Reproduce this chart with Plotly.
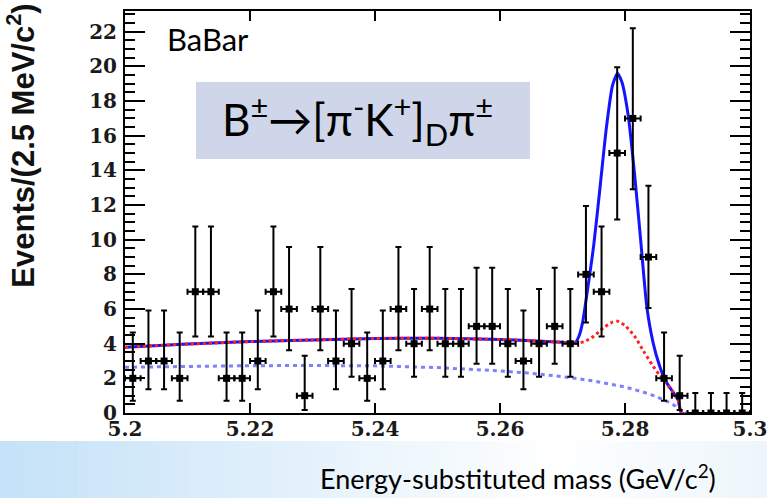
import plotly.graph_objects as go

# ---------------- data ----------------
mass = [5.20125, 5.20375, 5.20625, 5.20875, 5.21125, 5.21375, 5.21625, 5.21875,
        5.22125, 5.22375, 5.22625, 5.22875, 5.23125, 5.23375, 5.23625, 5.23875,
        5.24125, 5.24375, 5.24625, 5.24875, 5.25125, 5.25375, 5.25625, 5.25875,
        5.26125, 5.26375, 5.26625, 5.26875, 5.27125, 5.27375, 5.27625, 5.27875,
        5.28125, 5.28375, 5.28625, 5.28875, 5.29125, 5.29375, 5.29625, 5.29875]
counts = [2, 3, 3, 2, 7, 7, 2, 2, 3, 7, 6, 1, 6, 3, 4, 2, 3, 6, 4, 6,
          4, 4, 5, 5, 4, 3, 4, 5, 4, 8, 7, 15, 17, 9, 2, 1, 0, 0, 0, 0]
err_up = [2.64, 2.92, 2.92, 2.64, 3.77, 3.77, 2.64, 2.64, 2.92, 3.77,
          3.58, 2.30, 3.58, 2.92, 3.16, 2.64, 2.92, 3.58, 3.16, 3.58,
          3.16, 3.16, 3.38, 3.38, 3.16, 2.92, 3.16, 3.38, 3.16, 3.95,
          3.77, 4.95, 5.20, 4.11, 2.64, 2.30, 1.15, 1.15, 1.15, 1.15]
err_dn = [1.29, 1.63, 1.63, 1.29, 2.58, 2.58, 1.29, 1.29, 1.63, 2.58,
          2.38, 0.83, 2.38, 1.63, 1.91, 1.29, 1.63, 2.38, 1.91, 2.38,
          1.91, 1.91, 2.16, 2.16, 1.91, 1.63, 1.91, 2.16, 1.91, 2.77,
          2.58, 3.83, 4.08, 2.94, 1.29, 0.83, 0.0, 0.0, 0.0, 0.0]
half_bin = 0.00125

# combinatorial background (blue dashed)
bkg_x = [5.200, 5.210, 5.220, 5.230, 5.240, 5.250, 5.260, 5.265, 5.270, 5.275,
         5.280, 5.283, 5.285, 5.287, 5.288, 5.2886, 5.2891, 5.300]
bkg_y = [2.64, 2.70, 2.73, 2.74, 2.72, 2.62, 2.43, 2.29, 2.10, 1.85,
         1.50, 1.20, 0.95, 0.62, 0.42, 0.24, 0.0, 0.0]

# total background (red dotted)
red_x = [5.200, 5.210, 5.220, 5.230, 5.240, 5.250, 5.260, 5.265, 5.270, 5.272,
         5.2735, 5.275, 5.2765, 5.278, 5.2788, 5.280, 5.2815, 5.283, 5.2845, 5.286,
         5.2875, 5.2885, 5.2891, 5.300]
red_y = [3.79, 3.98, 4.12, 4.22, 4.30, 4.31, 4.24, 4.17, 4.08, 4.02,
         4.12, 4.43, 4.90, 5.25, 5.30, 5.05, 4.45, 3.55, 2.70, 1.95,
         1.30, 0.75, 0.0, 0.0]

# total fit (blue solid)
fit_x = [5.200, 5.210, 5.220, 5.230, 5.240, 5.250, 5.260, 5.265, 5.270, 5.272,
         5.2726, 5.2732, 5.274, 5.275, 5.276, 5.277, 5.278, 5.2788, 5.2795, 5.2805,
         5.2815, 5.2825, 5.2835, 5.2845, 5.2855, 5.2865, 5.2875, 5.2885, 5.2891, 5.300]
fit_y = [3.79, 3.98, 4.12, 4.22, 4.30, 4.31, 4.24, 4.17, 4.08, 4.05,
         4.40, 5.20, 7.10, 9.70, 13.0, 16.4, 18.9, 19.6, 19.1, 17.2,
         13.9, 10.0, 6.10, 4.05, 2.75, 1.85, 1.30, 0.75, 0.0, 0.0]

x_tickvals = [5.2, 5.22, 5.24, 5.26, 5.28, 5.3]
x_ticktext = ["5.2", "5.22", "5.24", "5.26", "5.28", "5.3"]
y_tickvals = [0, 2, 4, 6, 8, 10, 12, 14, 16, 18, 20, 22]

fig = go.Figure()

fig.add_trace(go.Scatter(x=bkg_x, y=bkg_y, mode="lines",
                         line=dict(color="rgba(105,105,255,0.85)", width=3, dash="4px,4px"),
                         hoverinfo="skip", showlegend=False))
fig.add_trace(go.Scatter(x=fit_x, y=fit_y, mode="lines",
                         line=dict(color="#1414ff", width=3, shape="spline", smoothing=0.6),
                         hoverinfo="skip", showlegend=False))
fig.add_trace(go.Scatter(x=red_x, y=red_y, mode="lines",
                         line=dict(color="#ff2020", width=3, dash="dot", shape="spline", smoothing=0.6),
                         hoverinfo="skip", showlegend=False))
fig.add_trace(go.Scatter(
    x=mass, y=counts, mode="markers",
    marker=dict(symbol="square", size=7, color="black"),
    error_y=dict(type="data", symmetric=False, array=err_up, arrayminus=err_dn,
                 color="black", thickness=2, width=3),
    error_x=dict(type="constant", value=half_bin, color="black", thickness=2, width=3),
    showlegend=False))

# label box
fig.add_shape(type="rect", xref="paper", yref="paper",
              x0=0.1136, x1=0.648, y0=0.632, y1=0.8236,
              fillcolor="#cfd6ea", line=dict(width=0), layer="below")

# bottom gradient band (vertical strips)
n_strips = 64
left_c = (196, 226, 248)
mid_c = (255, 255, 255)
right_c = (238, 246, 252)
x_start, x_end = -0.21, 1.04
for i in range(n_strips):
    f = i / (n_strips - 1)
    if f < 0.72:
        t = f / 0.72
        c = tuple(int(left_c[k] + (mid_c[k] - left_c[k]) * t) for k in range(3))
    else:
        t = (f - 0.72) / 0.28
        c = tuple(int(mid_c[k] + (right_c[k] - mid_c[k]) * t) for k in range(3))
    xa = x_start + (x_end - x_start) * i / n_strips
    xb = x_start + (x_end - x_start) * (i + 1) / n_strips + 0.001
    fig.add_shape(type="rect", xref="paper", yref="paper",
                  x0=xa, x1=xb, y0=-0.22, y1=-0.0697,
                  fillcolor="rgb(%d,%d,%d)" % c, line=dict(width=0), layer="below")

fig.add_annotation(text="B<sup>±</sup>→[π<sup>-</sup>K<sup>+</sup>]<sub>D</sub>π<sup>±</sup>",
                   xref="paper", yref="paper", x=0.372, y=0.728,
                   xanchor="center", yanchor="middle", showarrow=False,
                   font=dict(family="Lato", size=44, color="black"))
fig.add_annotation(text="BaBar", xref="paper", yref="paper", x=0.064, y=0.93,
                   xanchor="left", yanchor="middle", showarrow=False,
                   font=dict(family="Lato", size=31, color="black"))
fig.add_annotation(text="Energy-substituted mass (GeV/c<sup>2</sup>)",
                   xref="paper", yref="paper", x=0.9488, y=-0.16,
                   xanchor="right", yanchor="middle", showarrow=False,
                   font=dict(family="Lato", size=27, color="black"))
fig.add_annotation(text="<b>Events/(2.5 MeV/c<sup>2</sup>)</b>",
                   xref="paper", yref="paper", x=-0.167, y=0.664,
                   xanchor="center", yanchor="middle", showarrow=False, textangle=-90,
                   font=dict(family="Liberation Sans", size=31, color="#111111"))

fig.update_xaxes(range=[5.2, 5.3], tickvals=x_tickvals, ticktext=x_ticktext,
                 ticks="inside", ticklen=10, tickwidth=1.5, tickcolor="black",
                 showline=True, linewidth=2, linecolor="black", mirror="allticks",
                 showgrid=False, zeroline=False, ticklabelstandoff=-3,
                 ticklabeloverflow="allow", automargin=False,
                 tickfont=dict(family="DejaVu Serif", size=20, color="#1a1a1a", weight="bold"))
fig.update_yaxes(range=[0, 23.2], tickvals=y_tickvals,
                 ticks="inside", ticklen=20, tickwidth=1.5, tickcolor="black",
                 minor=dict(dtick=0.5, tick0=0, ticks="inside", ticklen=10,
                            tickwidth=1.5, tickcolor="black"),
                 showline=True, linewidth=2, linecolor="black", mirror="allticks",
                 showgrid=False, zeroline=False, ticklabelstandoff=2,
                 ticklabeloverflow="allow", automargin=False,
                 tickfont=dict(family="DejaVu Serif", size=20, color="#1a1a1a", weight="bold"))

fig.update_layout(width=767, height=498, margin=dict(l=125, r=17, t=11, b=85, autoexpand=False),
                  paper_bgcolor="white", plot_bgcolor="white")

fig.write_html("out.html", config={"displayModeBar": False})

# remove the browser's default page margin so the figure sits at the top-left corner
with open("out.html", "r", encoding="utf-8") as fh:
    html = fh.read()
html = html.replace("<head>", "<head><style>html,body{margin:0;padding:0;}</style>", 1)
with open("out.html", "w", encoding="utf-8") as fh:
    fh.write(html)
